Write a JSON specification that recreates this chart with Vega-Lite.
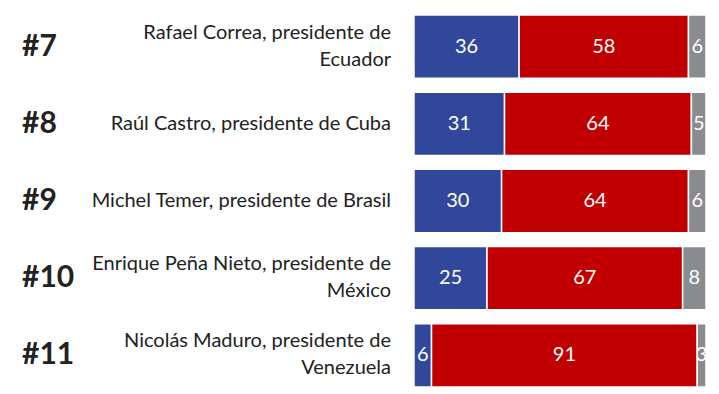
{
  "$schema": "https://vega.github.io/schema/vega-lite/v6.json",
  "padding": {"left": 22, "top": 8, "right": 0, "bottom": 0},
  "autosize": {"type": "pad"},
  "background": "white",
  "config": {"view": {"stroke": null}, "font": "Lato", "concat": {"spacing": 22}},
  "datasets": {
    "people": [
      {"order": 1, "rank": "#7", "name": "Rafael Correa, presidente de\nEcuador"},
      {"order": 2, "rank": "#8", "name": "Raúl Castro, presidente de Cuba"},
      {"order": 3, "rank": "#9", "name": "Michel Temer, presidente de Brasil"},
      {"order": 4, "rank": "#10", "name": "Enrique Peña Nieto, presidente de\nMéxico"},
      {"order": 5, "rank": "#11", "name": "Nicolás Maduro, presidente de\nVenezuela"}
    ],
    "shares": [
      {"order": 1, "k": "a", "value": 36}, {"order": 1, "k": "b", "value": 58}, {"order": 1, "k": "c", "value": 6},
      {"order": 2, "k": "a", "value": 31}, {"order": 2, "k": "b", "value": 64}, {"order": 2, "k": "c", "value": 5},
      {"order": 3, "k": "a", "value": 30}, {"order": 3, "k": "b", "value": 64}, {"order": 3, "k": "c", "value": 6},
      {"order": 4, "k": "a", "value": 25}, {"order": 4, "k": "b", "value": 67}, {"order": 4, "k": "c", "value": 8},
      {"order": 5, "k": "a", "value": 6}, {"order": 5, "k": "b", "value": 91}, {"order": 5, "k": "c", "value": 3}
    ]
  },
  "hconcat": [
    {
      "width": 369,
      "height": 386,
      "data": {"name": "people"},
      "encoding": {
        "y": {"field": "order", "type": "ordinal", "axis": null, "scale": {"paddingInner": 0.18, "paddingOuter": 0.09}}
      },
      "layer": [
        {
          "mark": {"type": "text", "align": "left", "baseline": "middle", "fontSize": 30, "fontWeight": "bold", "color": "#222222"},
          "encoding": {
            "x": {"datum": 0, "type": "quantitative", "scale": {"domain": [0, 1]}, "axis": null},
            "text": {"field": "rank"}
          }
        },
        {
          "transform": [{"filter": "indexof(datum.name, '\\n') < 0"}],
          "mark": {"type": "text", "align": "right", "baseline": "middle", "fontSize": 20, "color": "#222222"},
          "encoding": {
            "x": {"datum": 1, "type": "quantitative"},
            "text": {"field": "name"}
          }
        },
        {
          "transform": [{"filter": "indexof(datum.name, '\\n') >= 0"}],
          "mark": {"type": "text", "align": "right", "baseline": "middle", "fontSize": 20, "lineBreak": "\n", "lineHeight": 27, "dy": -14, "color": "#222222"},
          "encoding": {
            "x": {"datum": 1, "type": "quantitative"},
            "text": {"field": "name"}
          }
        }
      ]
    },
    {
      "width": 292,
      "height": 386,
      "data": {"name": "shares"},
      "transform": [
        {"stack": "value", "groupby": ["order"], "sort": [{"field": "k"}], "as": ["v0", "v1"]},
        {"calculate": "(datum.v0 + datum.v1) / 2", "as": "mid"}
      ],
      "encoding": {
        "y": {"field": "order", "type": "ordinal", "axis": null, "scale": {"paddingInner": 0.18, "paddingOuter": 0.09}}
      },
      "layer": [
        {
          "mark": {"type": "bar", "stroke": "white", "strokeWidth": 1.5},
          "encoding": {
            "x": {"field": "v0", "type": "quantitative", "scale": {"domain": [0, 100]}, "axis": null},
            "x2": {"field": "v1"},
            "color": {"field": "k", "type": "nominal", "scale": {"domain": ["a", "b", "c"], "range": ["#30479B", "#C00000", "#898B8E"]}, "legend": null}
          }
        },
        {
          "mark": {"type": "text", "color": "white", "fontSize": 20, "baseline": "middle", "align": "center"},
          "encoding": {
            "x": {"field": "mid", "type": "quantitative"},
            "text": {"field": "value"}
          }
        }
      ]
    }
  ]
}
